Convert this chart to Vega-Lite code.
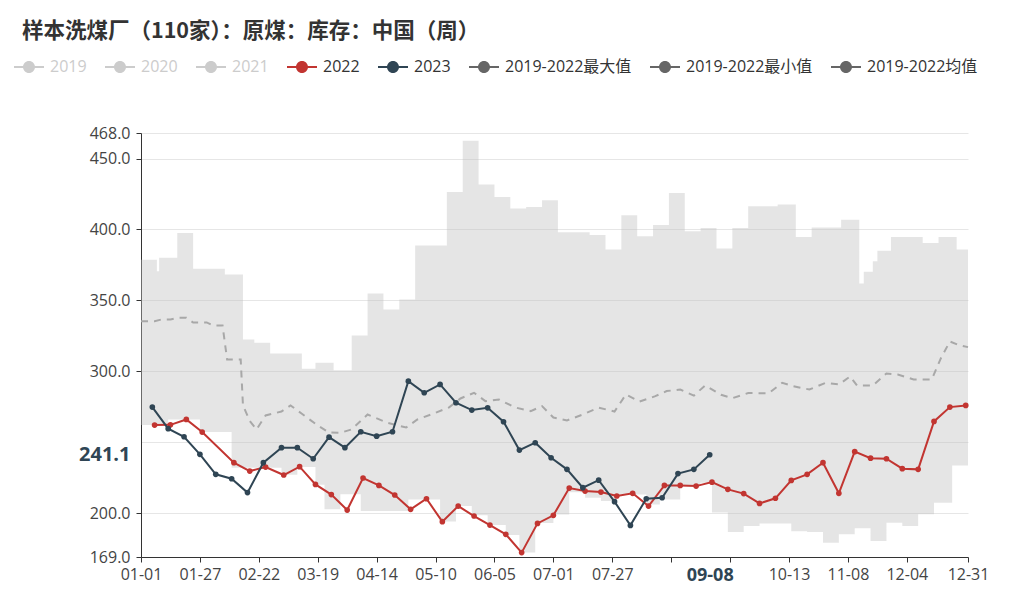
{
  "$schema": "https://vega.github.io/schema/vega-lite/v6.json",
  "width": 827,
  "height": 424,
  "autosize": {"type": "none"},
  "padding": {"left": 141, "top": 133, "right": 52, "bottom": 56},
  "background": "#ffffff",
  "title": {
    "text": "样本洗煤厂（110家）：原煤：库存：中国（周）",
    "anchor": "start",
    "frame": "group",
    "font": "Noto Sans CJK SC",
    "fontSize": 21.5,
    "fontWeight": "bold",
    "color": "#333333",
    "dx": -119,
    "offset": 10
  },
  "config": {
    "view": {"stroke": null},
    "axis": {
      "labelFont": "Open Sans",
      "labelFontSize": 16,
      "labelColor": "#444444",
      "domainColor": "#333333",
      "tickColor": "#333333",
      "tickSize": 5,
      "gridColor": "#e6e6e6",
      "title": null
    },
    "legend": {
      "title": null,
      "orient": "none",
      "direction": "horizontal",
      "legendX": -127,
      "legendY": -81,
      "symbolType": "M-1,-0.067H1V0.067H-1Z M0.4,0A0.4,0.4,0,1,1,-0.4,0A0.4,0.4,0,1,1,0.4,0Z",
      "symbolSize": 900,
      "symbolStrokeWidth": 0,
      "symbolOpacity": 1,
      "labelFont": "Open Sans, Noto Sans CJK SC",
      "labelFontSize": 16,
      "labelOffset": 6,
      "columnPadding": 18,
      "labelLimit": 300
    }
  },
  "datasets": {
    "band": [
      {"date": "2020-01-01", "max": 378.7, "min": 262.0},
      {"date": "2020-01-08", "max": 370.5, "min": 262.0},
      {"date": "2020-01-09", "max": 380.0, "min": 262.0},
      {"date": "2020-01-13", "max": 380.0, "min": 266.0},
      {"date": "2020-01-17", "max": 397.5, "min": 266.0},
      {"date": "2020-01-24", "max": 372.2, "min": 266.0},
      {"date": "2020-01-27", "max": 372.2, "min": 257.1},
      {"date": "2020-02-07", "max": 368.2, "min": 257.1},
      {"date": "2020-02-10", "max": 368.2, "min": 232.0},
      {"date": "2020-02-15", "max": 322.4, "min": 232.0},
      {"date": "2020-02-20", "max": 320.0, "min": 232.0},
      {"date": "2020-02-27", "max": 312.5, "min": 232.0},
      {"date": "2020-03-03", "max": 312.5, "min": 227.0},
      {"date": "2020-03-10", "max": 312.5, "min": 232.5},
      {"date": "2020-03-12", "max": 301.7, "min": 232.5},
      {"date": "2020-03-18", "max": 306.0, "min": 220.0},
      {"date": "2020-03-22", "max": 306.0, "min": 202.6},
      {"date": "2020-03-26", "max": 300.7, "min": 202.6},
      {"date": "2020-03-29", "max": 300.7, "min": 213.2},
      {"date": "2020-04-03", "max": 325.2, "min": 213.2},
      {"date": "2020-04-07", "max": 325.2, "min": 201.4},
      {"date": "2020-04-10", "max": 354.8, "min": 201.4},
      {"date": "2020-04-17", "max": 343.5, "min": 201.4},
      {"date": "2020-04-24", "max": 350.6, "min": 201.4},
      {"date": "2020-04-28", "max": 350.6, "min": 209.6},
      {"date": "2020-05-01", "max": 388.6, "min": 209.6},
      {"date": "2020-05-12", "max": 388.6, "min": 194.0},
      {"date": "2020-05-15", "max": 426.4, "min": 194.0},
      {"date": "2020-05-19", "max": 426.4, "min": 205.0},
      {"date": "2020-05-22", "max": 462.6, "min": 205.0},
      {"date": "2020-05-26", "max": 462.6, "min": 198.5},
      {"date": "2020-05-29", "max": 431.6, "min": 198.5},
      {"date": "2020-06-02", "max": 431.6, "min": 191.5},
      {"date": "2020-06-05", "max": 422.9, "min": 191.5},
      {"date": "2020-06-10", "max": 422.9, "min": 184.5},
      {"date": "2020-06-12", "max": 414.7, "min": 184.5},
      {"date": "2020-06-16", "max": 414.7, "min": 172.1},
      {"date": "2020-06-19", "max": 415.9, "min": 172.1},
      {"date": "2020-06-23", "max": 415.9, "min": 193.0},
      {"date": "2020-06-26", "max": 420.5, "min": 193.0},
      {"date": "2020-07-01", "max": 420.5, "min": 199.0},
      {"date": "2020-07-03", "max": 398.0, "min": 199.0},
      {"date": "2020-07-08", "max": 398.0, "min": 214.6},
      {"date": "2020-07-15", "max": 398.0, "min": 210.8},
      {"date": "2020-07-17", "max": 396.1, "min": 210.8},
      {"date": "2020-07-22", "max": 396.1, "min": 208.5},
      {"date": "2020-07-24", "max": 385.8, "min": 208.5},
      {"date": "2020-07-29", "max": 385.8, "min": 213.0},
      {"date": "2020-07-31", "max": 410.0, "min": 213.0},
      {"date": "2020-08-07", "max": 395.2, "min": 213.0},
      {"date": "2020-08-11", "max": 395.2, "min": 206.0},
      {"date": "2020-08-14", "max": 403.2, "min": 206.0},
      {"date": "2020-08-17", "max": 403.2, "min": 209.6},
      {"date": "2020-08-21", "max": 425.7, "min": 209.6},
      {"date": "2020-08-26", "max": 425.7, "min": 219.0},
      {"date": "2020-08-28", "max": 398.7, "min": 219.0},
      {"date": "2020-09-04", "max": 401.0, "min": 221.4},
      {"date": "2020-09-09", "max": 401.0, "min": 200.3},
      {"date": "2020-09-11", "max": 386.5, "min": 200.3},
      {"date": "2020-09-16", "max": 386.5, "min": 186.6},
      {"date": "2020-09-18", "max": 401.0, "min": 186.6},
      {"date": "2020-09-23", "max": 401.0, "min": 190.8},
      {"date": "2020-09-25", "max": 416.3, "min": 190.8},
      {"date": "2020-09-30", "max": 416.3, "min": 192.7},
      {"date": "2020-10-08", "max": 417.5, "min": 192.7},
      {"date": "2020-10-14", "max": 417.5, "min": 187.2},
      {"date": "2020-10-16", "max": 394.7, "min": 187.2},
      {"date": "2020-10-21", "max": 394.7, "min": 186.6},
      {"date": "2020-10-23", "max": 401.3, "min": 186.6},
      {"date": "2020-10-28", "max": 401.3, "min": 179.1},
      {"date": "2020-11-04", "max": 401.3, "min": 185.0},
      {"date": "2020-11-05", "max": 406.9, "min": 185.0},
      {"date": "2020-11-11", "max": 406.9, "min": 189.2},
      {"date": "2020-11-13", "max": 361.8, "min": 189.2},
      {"date": "2020-11-15", "max": 370.1, "min": 189.2},
      {"date": "2020-11-18", "max": 370.1, "min": 180.3},
      {"date": "2020-11-19", "max": 377.5, "min": 180.3},
      {"date": "2020-11-21", "max": 385.0, "min": 180.3},
      {"date": "2020-11-25", "max": 385.0, "min": 193.2},
      {"date": "2020-11-27", "max": 394.7, "min": 193.2},
      {"date": "2020-12-02", "max": 394.7, "min": 190.8},
      {"date": "2020-12-09", "max": 394.7, "min": 199.1},
      {"date": "2020-12-11", "max": 390.5, "min": 199.1},
      {"date": "2020-12-16", "max": 390.5, "min": 207.3},
      {"date": "2020-12-18", "max": 394.7, "min": 207.3},
      {"date": "2020-12-24", "max": 394.7, "min": 233.6},
      {"date": "2020-12-26", "max": 385.8, "min": 233.6},
      {"date": "2020-12-31", "max": 385.8, "min": 233.6}
    ],
    "mean": [
      {"date": "2020-01-01", "value": 335.3},
      {"date": "2020-01-07", "value": 335.3},
      {"date": "2020-01-10", "value": 336.5},
      {"date": "2020-01-14", "value": 336.5},
      {"date": "2020-01-17", "value": 337.7},
      {"date": "2020-01-21", "value": 337.7},
      {"date": "2020-01-24", "value": 334.4},
      {"date": "2020-01-30", "value": 334.4},
      {"date": "2020-02-02", "value": 332.2},
      {"date": "2020-02-06", "value": 332.2},
      {"date": "2020-02-08", "value": 308.3},
      {"date": "2020-02-14", "value": 308.3},
      {"date": "2020-02-15", "value": 276.0},
      {"date": "2020-02-18", "value": 265.0},
      {"date": "2020-02-21", "value": 259.0},
      {"date": "2020-02-25", "value": 268.8},
      {"date": "2020-03-03", "value": 271.6},
      {"date": "2020-03-07", "value": 275.9},
      {"date": "2020-03-12", "value": 270.0},
      {"date": "2020-03-19", "value": 261.8},
      {"date": "2020-03-24", "value": 256.8},
      {"date": "2020-03-29", "value": 256.6},
      {"date": "2020-04-03", "value": 259.0},
      {"date": "2020-04-10", "value": 269.5},
      {"date": "2020-04-19", "value": 263.5},
      {"date": "2020-04-27", "value": 260.3},
      {"date": "2020-05-02", "value": 266.0},
      {"date": "2020-05-08", "value": 269.5},
      {"date": "2020-05-16", "value": 274.5},
      {"date": "2020-05-21", "value": 280.8},
      {"date": "2020-05-27", "value": 284.8},
      {"date": "2020-06-01", "value": 278.9},
      {"date": "2020-06-07", "value": 280.1},
      {"date": "2020-06-14", "value": 274.5},
      {"date": "2020-06-21", "value": 271.9},
      {"date": "2020-06-26", "value": 275.4},
      {"date": "2020-07-01", "value": 267.4},
      {"date": "2020-07-07", "value": 265.3},
      {"date": "2020-07-14", "value": 269.5},
      {"date": "2020-07-21", "value": 274.3},
      {"date": "2020-07-28", "value": 271.6},
      {"date": "2020-08-02", "value": 283.6},
      {"date": "2020-08-08", "value": 278.6},
      {"date": "2020-08-15", "value": 282.4},
      {"date": "2020-08-20", "value": 286.0},
      {"date": "2020-08-26", "value": 287.1},
      {"date": "2020-09-01", "value": 282.8},
      {"date": "2020-09-06", "value": 290.0},
      {"date": "2020-09-13", "value": 283.4},
      {"date": "2020-09-18", "value": 281.0},
      {"date": "2020-09-25", "value": 284.6},
      {"date": "2020-10-04", "value": 284.5},
      {"date": "2020-10-10", "value": 291.8},
      {"date": "2020-10-15", "value": 289.4},
      {"date": "2020-10-22", "value": 287.1},
      {"date": "2020-10-29", "value": 291.7},
      {"date": "2020-11-04", "value": 290.7},
      {"date": "2020-11-09", "value": 296.3},
      {"date": "2020-11-12", "value": 290.0},
      {"date": "2020-11-19", "value": 290.0},
      {"date": "2020-11-25", "value": 298.4},
      {"date": "2020-11-30", "value": 297.7},
      {"date": "2020-12-07", "value": 294.2},
      {"date": "2020-12-15", "value": 294.2},
      {"date": "2020-12-19", "value": 309.0},
      {"date": "2020-12-23", "value": 321.0},
      {"date": "2020-12-27", "value": 318.4},
      {"date": "2020-12-31", "value": 317.0}
    ],
    "years": [
      {"series": "2022", "date": "2020-01-07", "value": 262.0},
      {"series": "2022", "date": "2020-01-14", "value": 262.2},
      {"series": "2022", "date": "2020-01-21", "value": 266.0},
      {"series": "2022", "date": "2020-01-28", "value": 257.1},
      {"series": "2022", "date": "2020-02-11", "value": 235.5},
      {"series": "2022", "date": "2020-02-18", "value": 229.6},
      {"series": "2022", "date": "2020-02-25", "value": 232.4},
      {"series": "2022", "date": "2020-03-04", "value": 226.8},
      {"series": "2022", "date": "2020-03-11", "value": 232.7},
      {"series": "2022", "date": "2020-03-18", "value": 220.2},
      {"series": "2022", "date": "2020-03-25", "value": 213.0},
      {"series": "2022", "date": "2020-04-01", "value": 202.1},
      {"series": "2022", "date": "2020-04-08", "value": 224.7},
      {"series": "2022", "date": "2020-04-15", "value": 219.5},
      {"series": "2022", "date": "2020-04-22", "value": 212.7},
      {"series": "2022", "date": "2020-04-29", "value": 202.6},
      {"series": "2022", "date": "2020-05-06", "value": 210.1},
      {"series": "2022", "date": "2020-05-13", "value": 193.9},
      {"series": "2022", "date": "2020-05-20", "value": 204.9},
      {"series": "2022", "date": "2020-05-27", "value": 197.9},
      {"series": "2022", "date": "2020-06-03", "value": 191.5},
      {"series": "2022", "date": "2020-06-10", "value": 185.0},
      {"series": "2022", "date": "2020-06-17", "value": 172.1},
      {"series": "2022", "date": "2020-06-24", "value": 192.7},
      {"series": "2022", "date": "2020-07-01", "value": 198.4},
      {"series": "2022", "date": "2020-07-08", "value": 217.6},
      {"series": "2022", "date": "2020-07-15", "value": 215.5},
      {"series": "2022", "date": "2020-07-22", "value": 214.8},
      {"series": "2022", "date": "2020-07-29", "value": 212.0},
      {"series": "2022", "date": "2020-08-05", "value": 213.9},
      {"series": "2022", "date": "2020-08-12", "value": 204.9},
      {"series": "2022", "date": "2020-08-19", "value": 219.5},
      {"series": "2022", "date": "2020-08-26", "value": 219.5},
      {"series": "2022", "date": "2020-09-02", "value": 219.0},
      {"series": "2022", "date": "2020-09-09", "value": 221.8},
      {"series": "2022", "date": "2020-09-16", "value": 216.7},
      {"series": "2022", "date": "2020-09-23", "value": 213.7},
      {"series": "2022", "date": "2020-09-30", "value": 206.8},
      {"series": "2022", "date": "2020-10-07", "value": 210.4},
      {"series": "2022", "date": "2020-10-14", "value": 223.0},
      {"series": "2022", "date": "2020-10-21", "value": 227.3},
      {"series": "2022", "date": "2020-10-28", "value": 235.5},
      {"series": "2022", "date": "2020-11-04", "value": 213.9},
      {"series": "2022", "date": "2020-11-11", "value": 243.3},
      {"series": "2022", "date": "2020-11-18", "value": 238.7},
      {"series": "2022", "date": "2020-11-25", "value": 238.3},
      {"series": "2022", "date": "2020-12-02", "value": 231.3},
      {"series": "2022", "date": "2020-12-09", "value": 230.8},
      {"series": "2022", "date": "2020-12-16", "value": 264.6},
      {"series": "2022", "date": "2020-12-23", "value": 274.7},
      {"series": "2022", "date": "2020-12-30", "value": 275.9},
      {"series": "2023", "date": "2020-01-06", "value": 274.7},
      {"series": "2023", "date": "2020-01-13", "value": 259.5},
      {"series": "2023", "date": "2020-01-20", "value": 253.8},
      {"series": "2023", "date": "2020-01-27", "value": 241.4},
      {"series": "2023", "date": "2020-02-03", "value": 227.3},
      {"series": "2023", "date": "2020-02-10", "value": 224.2},
      {"series": "2023", "date": "2020-02-17", "value": 214.4},
      {"series": "2023", "date": "2020-02-24", "value": 235.5},
      {"series": "2023", "date": "2020-03-03", "value": 246.1},
      {"series": "2023", "date": "2020-03-10", "value": 246.1},
      {"series": "2023", "date": "2020-03-17", "value": 238.3},
      {"series": "2023", "date": "2020-03-24", "value": 253.5},
      {"series": "2023", "date": "2020-03-31", "value": 246.1},
      {"series": "2023", "date": "2020-04-07", "value": 257.3},
      {"series": "2023", "date": "2020-04-14", "value": 254.2},
      {"series": "2023", "date": "2020-04-21", "value": 257.3},
      {"series": "2023", "date": "2020-04-28", "value": 293.0},
      {"series": "2023", "date": "2020-05-05", "value": 284.8},
      {"series": "2023", "date": "2020-05-12", "value": 290.7},
      {"series": "2023", "date": "2020-05-19", "value": 277.8},
      {"series": "2023", "date": "2020-05-26", "value": 272.6},
      {"series": "2023", "date": "2020-06-02", "value": 274.2},
      {"series": "2023", "date": "2020-06-09", "value": 264.4},
      {"series": "2023", "date": "2020-06-16", "value": 244.4},
      {"series": "2023", "date": "2020-06-23", "value": 249.6},
      {"series": "2023", "date": "2020-06-30", "value": 239.0},
      {"series": "2023", "date": "2020-07-07", "value": 230.8},
      {"series": "2023", "date": "2020-07-14", "value": 217.9},
      {"series": "2023", "date": "2020-07-21", "value": 223.2},
      {"series": "2023", "date": "2020-07-28", "value": 208.0},
      {"series": "2023", "date": "2020-08-04", "value": 191.3},
      {"series": "2023", "date": "2020-08-11", "value": 210.1},
      {"series": "2023", "date": "2020-08-18", "value": 210.8},
      {"series": "2023", "date": "2020-08-25", "value": 227.8},
      {"series": "2023", "date": "2020-09-01", "value": 230.8},
      {"series": "2023", "date": "2020-09-08", "value": 241.1}
    ]
  },
  "layer": [
    {
      "data": {"name": "band"},
      "mark": {"type": "area", "interpolate": "step-after", "color": "#bdbdbd", "opacity": 0.4},
      "encoding": {
        "x": {
          "field": "date",
          "type": "temporal",
          "scale": {"type": "utc", "domain": [{"year": 2020, "month": 1, "date": 1, "utc": true}, {"year": 2020, "month": 12, "date": 31, "utc": true}]},
          "axis": {
            "format": "%m-%d",
            "grid": false,
            "labelPadding": 4,
            "labelFlush": false,
            "labelBound": false,
            "values": [
              {"year": 2020, "month": 1, "date": 1, "utc": true},
              {"year": 2020, "month": 1, "date": 27, "utc": true},
              {"year": 2020, "month": 2, "date": 22, "utc": true},
              {"year": 2020, "month": 3, "date": 19, "utc": true},
              {"year": 2020, "month": 4, "date": 14, "utc": true},
              {"year": 2020, "month": 5, "date": 10, "utc": true},
              {"year": 2020, "month": 6, "date": 5, "utc": true},
              {"year": 2020, "month": 7, "date": 1, "utc": true},
              {"year": 2020, "month": 7, "date": 27, "utc": true},
              {"year": 2020, "month": 8, "date": 22, "utc": true},
              {"year": 2020, "month": 9, "date": 8, "utc": true},
              {"year": 2020, "month": 9, "date": 17, "utc": true},
              {"year": 2020, "month": 10, "date": 13, "utc": true},
              {"year": 2020, "month": 11, "date": 8, "utc": true},
              {"year": 2020, "month": 12, "date": 4, "utc": true},
              {"year": 2020, "month": 12, "date": 31, "utc": true}
            ],
            "labelOverlap": false,
            "labelExpr": "(utcmonth(datum.value) == 7 && utcdate(datum.value) == 22) || (utcmonth(datum.value) == 8 && utcdate(datum.value) == 17) ? '' : datum.label",
            "labelFontWeight": {"condition": {"test": "utcmonth(datum.value) == 8 && utcdate(datum.value) == 8", "value": "bold"}, "value": "normal"},
            "labelFontSize": {"condition": {"test": "utcmonth(datum.value) == 8 && utcdate(datum.value) == 8", "value": 18}, "value": 16},
            "labelColor": {"condition": {"test": "utcmonth(datum.value) == 8 && utcdate(datum.value) == 8", "value": "#2f4554"}, "value": "#444444"},
            "tickOpacity": {"condition": {"test": "utcmonth(datum.value) == 8 && utcdate(datum.value) == 8", "value": 0}, "value": 1}
          }
        },
        "y": {
          "field": "max",
          "type": "quantitative",
          "scale": {"domain": [169, 468], "nice": false, "zero": false},
          "axis": {
            "values": [169, 200, 241.1, 250, 300, 350, 400, 450, 468],
            "format": ".1f",
            "labelPadding": 6,
            "labelOverlap": false,
            "labelFontWeight": {"condition": {"test": "datum.value == 241.1", "value": "bold"}, "value": "normal"},
            "labelFontSize": {"condition": {"test": "datum.value == 241.1", "value": 20}, "value": 16},
            "labelColor": {"condition": {"test": "datum.value == 241.1", "value": "#2f4554"}, "value": "#444444"},
            "labelOpacity": {"condition": {"test": "datum.value == 250", "value": 0}, "value": 1},
            "tickOpacity": {"condition": {"test": "datum.value == 241.1 || datum.value == 250", "value": 0}, "value": 1},
            "gridOpacity": {"condition": {"test": "datum.value == 241.1", "value": 0}, "value": 1}
          }
        },
        "y2": {"field": "min"}
      }
    },
    {
      "mark": {"type": "text", "text": "紫金天风期货", "font": "Noto Sans CJK SC", "fontSize": 21, "color": "#999999", "opacity": 0.85},
      "encoding": {
        "x": {"datum": {"year": 2020, "month": 6, "date": 12, "utc": true}, "type": "temporal"},
        "y": {"datum": 351.3, "type": "quantitative"}
      }
    },
    {
      "data": {"name": "mean"},
      "mark": {"type": "line", "color": "#a8a8a8", "strokeWidth": 2, "strokeDash": [7, 6]},
      "encoding": {
        "x": {"field": "date", "type": "temporal"},
        "y": {"field": "value", "type": "quantitative"}
      }
    },
    {
      "data": {"name": "years"},
      "mark": {"type": "line", "strokeWidth": 2},
      "encoding": {
        "x": {"field": "date", "type": "temporal"},
        "y": {"field": "value", "type": "quantitative"},
        "color": {
          "field": "series",
          "type": "nominal",
          "scale": {
            "domain": ["2019", "2020", "2021", "2022", "2023", "2019-2022最大值", "2019-2022最小值", "2019-2022均值"],
            "range": ["#cccccc", "#cccccc", "#cccccc", "#c23531", "#2f4554", "#666666", "#666666", "#666666"]
          },
          "legend": {
            "encode": {
              "labels": {"update": {"fill": {"signal": "indexof(['2019','2020','2021'], datum.label) >= 0 ? '#cccccc' : '#333333'"}}},
              "symbols": {"update": {"fill": {"scale": "color", "field": "value"}, "stroke": {"value": "transparent"}, "opacity": {"value": 1}}}
            }
          }
        }
      }
    },
    {
      "data": {"name": "years"},
      "mark": {"type": "point", "filled": true, "size": 32, "opacity": 1},
      "encoding": {
        "x": {"field": "date", "type": "temporal"},
        "y": {"field": "value", "type": "quantitative"},
        "color": {
          "field": "series",
          "type": "nominal",
          "legend": {
            "encode": {
              "labels": {"update": {"fill": {"signal": "indexof(['2019','2020','2021'], datum.label) >= 0 ? '#cccccc' : '#333333'"}}},
              "symbols": {"update": {"fill": {"scale": "color", "field": "value"}, "stroke": {"value": "transparent"}, "opacity": {"value": 1}}}
            }
          }
        }
      }
    }
  ]
}
